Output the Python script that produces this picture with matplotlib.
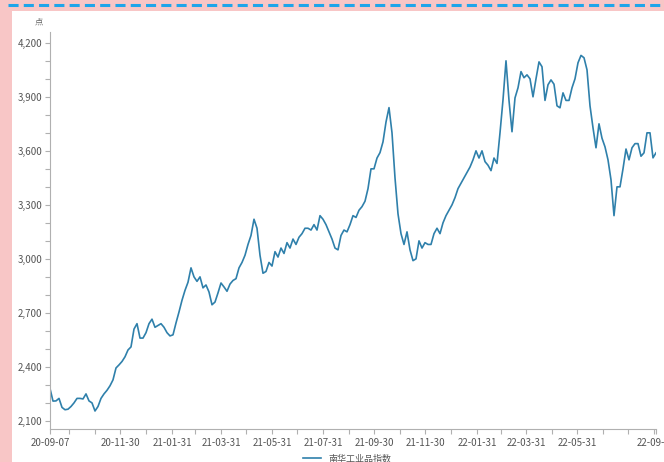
import pandas as pd
import matplotlib
matplotlib.use("Agg")
import matplotlib.pyplot as plt
import matplotlib.dates as mdates
from matplotlib.ticker import MultipleLocator, FuncFormatter
from matplotlib.patches import Rectangle
from matplotlib.lines import Line2D

plt.rcParams['font.family'] = ['Noto Sans CJK SC', 'DejaVu Sans']

# Nanhua industrial index (evenly spaced samples)
start_date = "2020-09-07"
end_date = "2022-09-02"
index_values = [
    2280, 2210, 2211, 2225, 2175, 2162, 2165, 2180, 2200, 2225,
    2225, 2222, 2250, 2211, 2200, 2155, 2180, 2225, 2250, 2270,
    2295, 2328, 2394, 2411, 2430, 2456, 2494, 2511, 2610, 2640,
    2560, 2560, 2590, 2640, 2665, 2620, 2630, 2640, 2620, 2590,
    2572, 2578, 2644, 2705, 2770, 2825, 2870, 2950, 2900, 2875,
    2900, 2839, 2855, 2816, 2745, 2760, 2811, 2866, 2844, 2820,
    2860, 2880, 2890, 2950, 2980, 3020, 3080, 3130, 3220, 3170,
    3020, 2920, 2930, 2980, 2960, 3040, 3010, 3060, 3030, 3090,
    3060, 3110, 3080, 3120, 3140, 3170, 3170, 3160, 3190, 3160,
    3240, 3220, 3190, 3150, 3110, 3060, 3050, 3130, 3160, 3150,
    3190, 3240, 3230, 3270, 3290, 3320, 3390, 3500, 3500, 3560,
    3590, 3650, 3760, 3840, 3700, 3450, 3250, 3140, 3080, 3150,
    3050, 2990, 3000, 3100, 3060, 3090, 3080, 3080, 3140, 3170,
    3140, 3200, 3240, 3270, 3300, 3340, 3390, 3420, 3450, 3480,
    3510, 3550, 3600, 3560, 3600, 3540, 3520, 3490, 3560, 3530,
    3700, 3883, 4100, 3880, 3706, 3894, 3950, 4040, 4006, 4022,
    4000, 3900, 4000, 4094, 4067, 3880, 3967, 3994, 3970, 3850,
    3839, 3922, 3880, 3880, 3950, 4000, 4089, 4130, 4117, 4050,
    3850, 3728, 3617, 3750, 3670, 3622, 3550, 3439, 3240, 3400,
    3400, 3500, 3610, 3550, 3617, 3640, 3640, 3570, 3589, 3700,
    3700, 3561, 3589,
]
label_dates = ["2020-09-07", "2020-11-30", "2021-01-31", "2021-03-31",
               "2021-05-31", "2021-07-31", "2021-09-30", "2021-11-30",
               "2022-01-31", "2022-03-31", "2022-05-31", "2022-09-02"]
series_name = "南华工业品指数"
unit_label = "点"

dates = pd.date_range(start_date, end_date, periods=len(index_values))

fig = plt.figure(figsize=(6.64, 4.62), dpi=100)
fig.patch.set_facecolor('#f8c6c6')
fig.add_artist(Rectangle((12 / 664, 0), 1, (462 - 11) / 462, transform=fig.transFigure,
                         facecolor='white', edgecolor='none', zorder=-10))
fig.add_artist(Line2D([8 / 664, 1], [1 - 5 / 462] * 2, transform=fig.transFigure,
                      color='#1ea5ea', lw=2.2, linestyle=(0, (3.3, 1.7))))

ax = fig.add_axes([50 / 664, 1 - 429 / 462, 606 / 664, (429 - 32) / 462])
line, = ax.plot(dates, index_values, color='#2f80ab', lw=1.2)

ax.set_xlim(dates[0], dates[-1])
ax.set_ylim(2055, 4260)

for side in ['top', 'right']:
    ax.spines[side].set_visible(False)
for side in ['left', 'bottom']:
    ax.spines[side].set_color('#b0b0b0')
    ax.spines[side].set_linewidth(0.8)

ax.yaxis.set_major_locator(MultipleLocator(300))
ax.yaxis.set_minor_locator(MultipleLocator(100))
ax.yaxis.set_major_formatter(FuncFormatter(lambda v, p: f"{v:,.0f}"))

major = pd.to_datetime(label_dates)
ax.set_xticks(major)
ax.set_xticklabels([d.strftime('%y-%m-%d') for d in major])
ax.xaxis.set_minor_locator(mdates.MonthLocator(bymonthday=-1))

ax.tick_params(which='both', color='#b0b0b0', length=3.5, width=0.8,
               labelsize=7, labelcolor='#555555')
ax.tick_params(axis='x', pad=3)
ax.tick_params(axis='y', pad=2)

fig.text(39 / 664, 1 - 22 / 462, unit_label, fontsize=6, color='#666666',
         ha='center', va='center')

fig.legend(handles=[line], labels=[series_name], loc='center',
           bbox_to_anchor=(347 / 664, 1 - 459 / 462), frameon=False,
           fontsize=6.5, handlelength=2, labelcolor='#555555')

fig.savefig("out.png", dpi=100)
